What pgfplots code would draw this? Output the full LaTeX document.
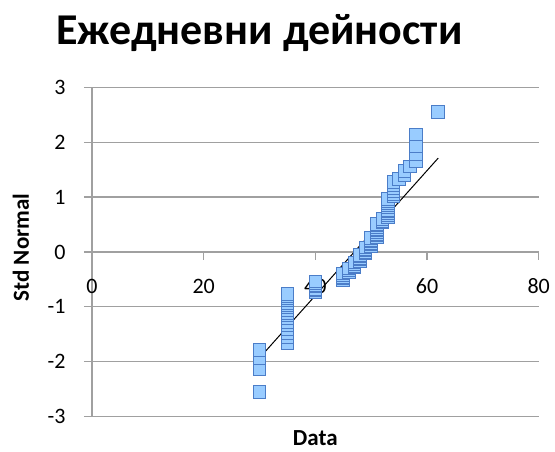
\documentclass[border=0pt]{standalone}
\usepackage{fontspec}
\setmainfont{Carlito}
\usepackage{pgfplots}
\usepackage{pgfplotstable}
\pgfplotsset{compat=1.18}

\definecolor{gridgray}{RGB}{160,160,160}
\definecolor{markfill}{RGB}{153,204,255}
\definecolor{markedge}{RGB}{75,125,200}

% normal probability plot: observed value vs. standard normal quantile
\pgfplotstableread{
x z
30 -2.55
30 -2.14
30 -1.93
30 -1.78
35 -1.66
35 -1.56
35 -1.48
35 -1.40
35 -1.33
35 -1.27
35 -1.21
35 -1.16
35 -1.11
35 -1.06
35 -1.01
35 -0.97
35 -0.93
35 -0.88
35 -0.85
35 -0.81
35 -0.77
40 -0.74
40 -0.70
40 -0.67
40 -0.63
40 -0.60
40 -0.57
40 -0.54
45 -0.51
45 -0.48
45 -0.45
45 -0.42
45 -0.39
46 -0.36
46 -0.33
46 -0.30
47 -0.27
47 -0.25
47 -0.22
47 -0.19
48 -0.16
48 -0.14
48 -0.11
48 -0.08
48 -0.05
49 -0.03
49 0.00
49 0.03
49 0.05
49 0.08
50 0.11
50 0.14
50 0.16
50 0.19
50 0.22
50 0.25
51 0.27
51 0.30
51 0.33
51 0.36
51 0.39
51 0.42
51 0.45
51 0.48
51 0.51
52 0.54
52 0.57
52 0.60
53 0.63
53 0.67
53 0.70
53 0.74
53 0.77
53 0.81
53 0.85
53 0.88
53 0.93
53 0.97
54 1.01
54 1.06
54 1.11
54 1.16
54 1.21
54 1.27
55 1.33
56 1.40
56 1.48
57 1.56
58 1.66
58 1.78
58 1.93
58 2.14
62 2.55
}\ppdata

\begin{document}
\begin{tikzpicture}
\useasboundingbox (-92pt,-35.3pt) rectangle (463pt,416.7pt);
\begin{axis}[
  at={(0,0)}, anchor=south west,
  scale only axis, width=446.7pt, height=329.4pt,
  xmin=0, xmax=80, ymin=-3, ymax=3,
  axis x line=middle, axis y line=left,
  hide obscured x ticks=false,
  axis line style={draw=gridgray, line width=1.2pt, -},
  xtick={0,20,40,60,80}, xticklabels={0,20,40,60,80},
  ytick={-3,-2,-1,0,1,2,3}, yticklabels={-3,-2,-1,0,1,2,3},
  tick align=outside, major tick length=8pt,
  tick style={draw=gridgray, line width=1.2pt},
  ymajorgrids, grid style={draw=gridgray, line width=1.2pt},
  tick label style={font=\fontsize{22}{26}\selectfont},
  xticklabel style={anchor=center, yshift=-26pt},
  yticklabel style={anchor=east, xshift=-15pt},
  title={Ежедневни дейности},
  title style={at={(axis description cs:0.375,1.111)}, anchor=base,
    font=\bfseries\fontsize{44}{52}\selectfont},
  xlabel={Data},
  xlabel style={at={(axis description cs:0.5,-0.0653)}, anchor=center,
    font=\bfseries\fontsize{23}{27}\selectfont},
  ylabel={Std Normal},
  ylabel style={at={(axis description cs:-0.159,0.514)}, anchor=center,
    font=\bfseries\fontsize{23}{27}\selectfont},
  clip=false,
]
\addplot[only marks, mark=square*, mark size=6.3pt,
  mark options={fill=markfill, draw=markedge, line width=1pt}]
  table[x=x, y=z] {\ppdata};
% linear trendline
\addplot[black, line width=1pt] coordinates {(30,-1.93) (62,1.71)};
\end{axis}
\end{tikzpicture}
\end{document}
